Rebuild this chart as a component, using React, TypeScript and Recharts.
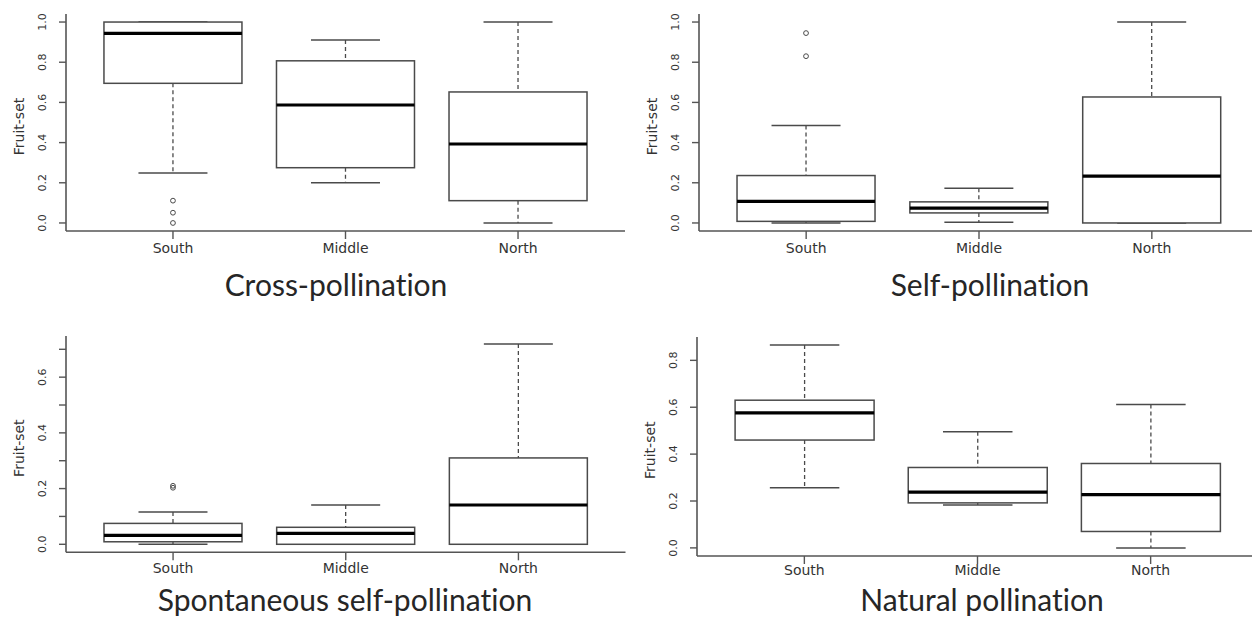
import React from 'react';
import { ComposedChart, Bar, XAxis, YAxis } from 'recharts';

// Regions on the x axis
const GROUPS = ['South', 'Middle', 'North'];

// Cross-pollination: whisker ends, quartiles, medians, outliers
const crossLow = [0.249, 0.2, 0.0];
const crossQ1 = [0.695, 0.275, 0.111];
const crossMedian = [0.944, 0.587, 0.393];
const crossQ3 = [1.0, 0.807, 0.652];
const crossHigh = [1.0, 0.91, 1.0];
const crossOutliers = [[0.111, 0.051, 0.0], [], []];

// Self-pollination
const selfLow = [0.0, 0.003, 0.0];
const selfQ1 = [0.008, 0.05, 0.0];
const selfMedian = [0.107, 0.074, 0.233];
const selfQ3 = [0.236, 0.105, 0.627];
const selfHigh = [0.485, 0.173, 1.0];
const selfOutliers = [[0.945, 0.83], [], []];

// Spontaneous self-pollination
const spontLow = [0.0, 0.0, 0.0];
const spontQ1 = [0.009, 0.0, 0.0];
const spontMedian = [0.032, 0.039, 0.141];
const spontQ3 = [0.075, 0.061, 0.31];
const spontHigh = [0.116, 0.141, 0.719];
const spontOutliers = [[0.203, 0.21], [], []];

// Natural pollination
const naturalLow = [0.257, 0.183, 0.0];
const naturalQ1 = [0.46, 0.192, 0.07];
const naturalMedian = [0.576, 0.238, 0.227];
const naturalQ3 = [0.63, 0.343, 0.36];
const naturalHigh = [0.865, 0.495, 0.612];
const naturalOutliers = [[], [], []];

// Y tick values and their printed labels ('' = tick mark only)
const ticksUnit = [0, 0.2, 0.4, 0.6, 0.8, 1.0];
const ticksUnitLabels = ['0.0', '0.2', '0.4', '0.6', '0.8', '1.0'];
const ticksSpont = [0, 0.1, 0.2, 0.3, 0.4, 0.5, 0.6, 0.7];
const ticksSpontLabels = ['0.0', '', '0.2', '', '0.4', '', '0.6', ''];
const ticksNatural = [0, 0.2, 0.4, 0.6, 0.8];
const ticksNaturalLabels = ['0.0', '0.2', '0.4', '0.6', '0.8'];

const TITLES = ['Cross-pollination', 'Self-pollination', 'Spontaneous self-pollination', 'Natural pollination'];
const Y_LABEL = 'Fruit-set';

type Row = { name: string; lo: number; q1: number; med: number; q3: number; hi: number; out: number[] };

function buildRows(lo: number[], q1: number[], med: number[], q3: number[], hi: number[], out: number[][]): Row[] {
  return GROUPS.map((name, i) => ({ name, lo: lo[i], q1: q1[i], med: med[i], q3: q3[i], hi: hi[i], out: out[i] }));
}

// R-style y range: data range stretched by 4% on each side
function rDomain(rows: Row[]): [number, number] {
  const vals = rows.flatMap((r) => [r.lo, r.hi, ...r.out]);
  const mn = Math.min(...vals);
  const mx = Math.max(...vals);
  const pad = (mx - mn) * 0.04;
  return [mn - pad, mx + pad];
}

const FRAME = '#555';
const BOX = '#4a4a4a';
const TEXT = '#333';

const BoxShape = (props: any) => {
  const { x, y, width, height, payload } = props;
  const r: Row = payload;
  const span = r.hi - r.lo;
  const py = (v: number) => y + ((r.hi - v) / span) * height;
  const cx = x + width / 2;
  const cap = width / 4;
  return (
    <g>
      <line x1={cx} x2={cx} y1={py(r.hi)} y2={py(r.q3)} stroke={BOX} strokeWidth={1.3} strokeDasharray="4 3" />
      <line x1={cx} x2={cx} y1={py(r.q1)} y2={py(r.lo)} stroke={BOX} strokeWidth={1.3} strokeDasharray="4 3" />
      <line x1={cx - cap} x2={cx + cap} y1={py(r.hi)} y2={py(r.hi)} stroke={BOX} strokeWidth={1.5} />
      <line x1={cx - cap} x2={cx + cap} y1={py(r.lo)} y2={py(r.lo)} stroke={BOX} strokeWidth={1.5} />
      <rect x={x} y={py(r.q3)} width={width} height={py(r.q1) - py(r.q3)} fill="#fff" stroke={BOX} strokeWidth={1.5} />
      <line x1={x} x2={x + width} y1={py(r.med)} y2={py(r.med)} stroke="#000" strokeWidth={3.2} />
      {r.out.map((o, i) => (
        <circle key={i} cx={cx} cy={py(o)} r={2.4} fill="none" stroke={BOX} strokeWidth={1} />
      ))}
    </g>
  );
};

type Frame = { left: number; top: number; width: number; height: number };

const PLOT_LEFT = 66; // margin.left + y-axis width
const PLOT_TOP = 14;
const PAGE_W = 1252;

function Panel({ frame, rows, ticks, labels, xTickMargin }: { frame: Frame; rows: Row[]; ticks: number[]; labels: string[]; xTickMargin: number }) {
  const domain = rDomain(rows);
  const pad = frame.width * (0.12 / 3.24);
  const closesRight = frame.left + frame.width < PAGE_W;
  const labelFor = (v: number) => {
    const i = ticks.findIndex((t) => Math.abs(t - v) < 1e-9);
    return i >= 0 ? labels[i] : '';
  };
  const YTick = (p: any) => {
    const { x, y, payload } = p;
    const bx = x - 13;
    return (
      <text x={0} y={0} transform={`translate(${bx},${y}) rotate(-90)`} textAnchor="middle" fontFamily="DejaVu Sans" fontSize={11} fill={TEXT}>
        {labelFor(payload.value)}
      </text>
    );
  };
  const axisLine = { stroke: FRAME, strokeWidth: 1.6 };
  return (
    <div style={{ position: 'absolute', left: frame.left - PLOT_LEFT, top: frame.top - PLOT_TOP }}>
      <ComposedChart
        width={PLOT_LEFT + frame.width + 6}
        height={PLOT_TOP + frame.height + 40}
        data={rows}
        margin={{ top: PLOT_TOP, left: 16, right: 6, bottom: 10 }}
        barCategoryGap="10%"
      >
        <XAxis
          dataKey="name"
          type="category"
          height={30}
          padding={{ left: pad, right: pad }}
          axisLine={axisLine}
          tickLine={{ stroke: FRAME, strokeWidth: 1.4 }}
          tickSize={8}
          tickMargin={xTickMargin}
          interval={0}
          tick={{ fontFamily: 'DejaVu Sans', fontSize: 14, fill: TEXT }}
        />
        <XAxis xAxisId="top" dataKey="name" orientation="top" height={0} axisLine={axisLine} tick={false} tickLine={false} />
        <YAxis
          type="number"
          domain={domain}
          allowDataOverflow
          ticks={ticks}
          interval={0}
          width={50}
          axisLine={axisLine}
          tickLine={{ stroke: FRAME, strokeWidth: 1.4 }}
          tickSize={7}
          tickMargin={0}
          tick={YTick}
        />
        {closesRight && (
          <YAxis yAxisId="right" orientation="right" type="number" domain={domain} allowDataOverflow width={0} axisLine={axisLine} tick={false} tickLine={false} />
        )}
        <Bar dataKey={(d: Row) => [d.lo, d.hi]} shape={BoxShape} isAnimationActive={false} />
      </ComposedChart>
    </div>
  );
}

const frames: Frame[] = [
  { left: 66, top: 14, width: 559, height: 217 },
  { left: 698.5, top: 14, width: 560, height: 217 },
  { left: 65.5, top: 336, width: 559.5, height: 216.3 },
  { left: 697, top: 336.7, width: 561, height: 219 },
];

const titleBaselines = [296, 296, 611, 611];
const titleCenters = [336, 990, 345, 982];

export default function App() {
  const cross = buildRows(crossLow, crossQ1, crossMedian, crossQ3, crossHigh, crossOutliers);
  const self = buildRows(selfLow, selfQ1, selfMedian, selfQ3, selfHigh, selfOutliers);
  const spont = buildRows(spontLow, spontQ1, spontMedian, spontQ3, spontHigh, spontOutliers);
  const natural = buildRows(naturalLow, naturalQ1, naturalMedian, naturalQ3, naturalHigh, naturalOutliers);
  return (
    <div style={{ position: 'absolute', left: 0, top: 0, width: PAGE_W, height: 620, overflow: 'hidden', background: '#fff' }}>
      <Panel frame={frames[0]} rows={cross} ticks={ticksUnit} labels={ticksUnitLabels} xTickMargin={4} />
      <Panel frame={frames[1]} rows={self} ticks={ticksUnit} labels={ticksUnitLabels} xTickMargin={4} />
      <Panel frame={frames[2]} rows={spont} ticks={ticksSpont} labels={ticksSpontLabels} xTickMargin={3} />
      <Panel frame={frames[3]} rows={natural} ticks={ticksNatural} labels={ticksNaturalLabels} xTickMargin={1} />
      <svg width={PAGE_W} height={620} style={{ position: 'absolute', left: 0, top: 0, pointerEvents: 'none' }}>
        {frames.map((f, i) => (
          <text
            key={'y' + i}
            x={0}
            y={0}
            transform={`translate(${f.left - 42},${f.top + f.height / 2 + 4}) rotate(-90)`}
            textAnchor="middle"
            fontFamily="DejaVu Sans"
            fontSize={14}
            fill={TEXT}
          >
            {Y_LABEL}
          </text>
        ))}
        {TITLES.map((t, i) => (
          <text
            key={'t' + i}
            x={titleCenters[i]}
            y={titleBaselines[i]}
            textAnchor="middle"
            fontFamily="Lato"
            fontSize={30}
            fill="#262626"
            style={{ fontVariantLigatures: 'none' }}
          >
            {t}
          </text>
        ))}
      </svg>
    </div>
  );
}
